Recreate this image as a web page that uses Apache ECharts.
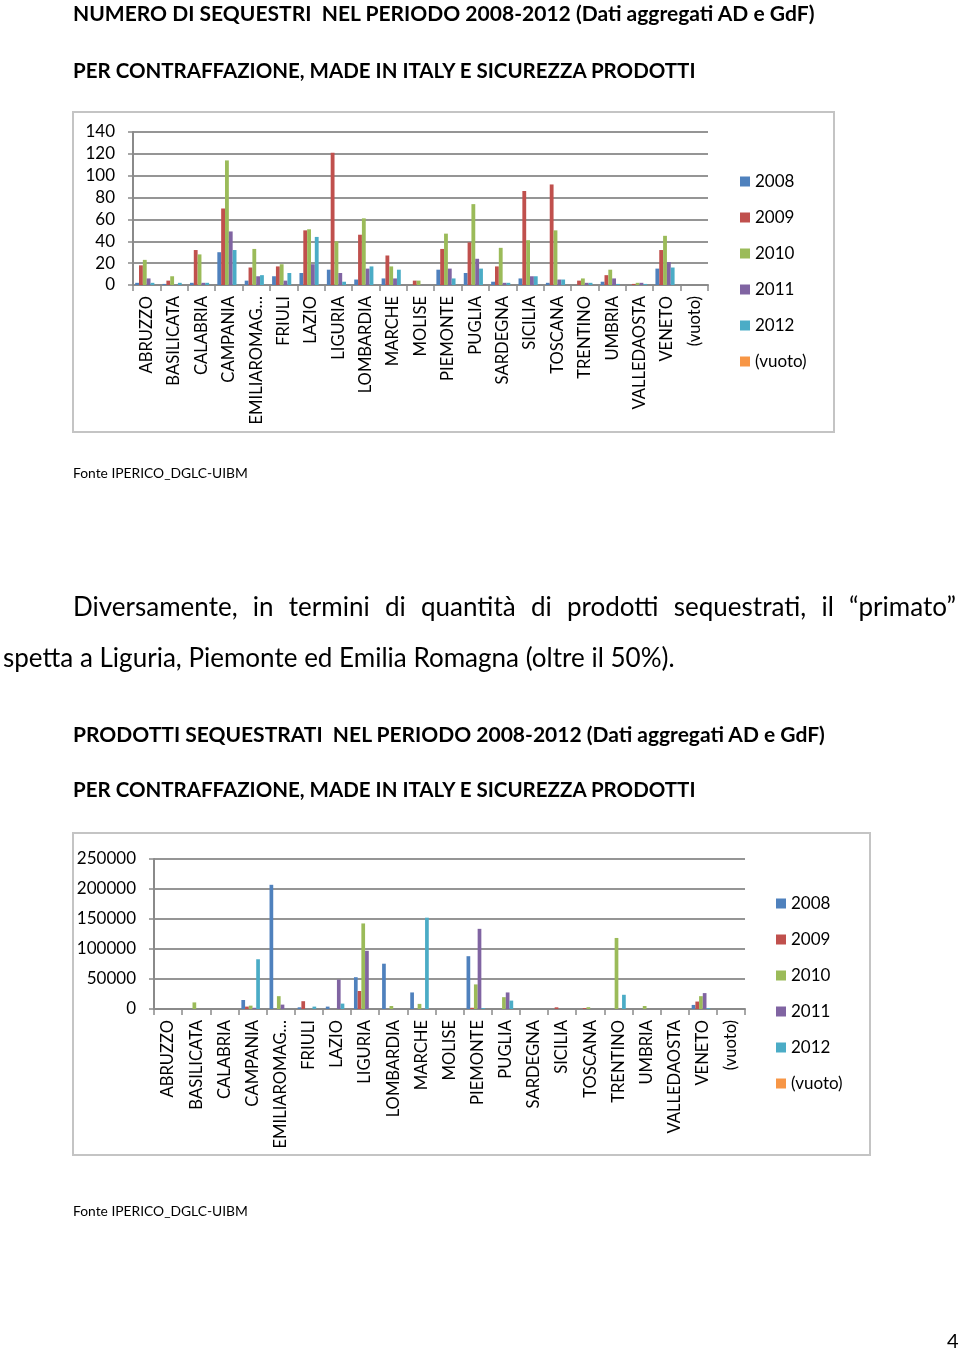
<!DOCTYPE html>
<html>
<head>
<meta charset="utf-8">
<script src="https://cdn.jsdelivr.net/npm/echarts@6/dist/echarts.min.js"></script>
<style>
  html, body { margin: 0; padding: 0; background: #fff; }
  #page { position: relative; width: 960px; height: 1349px; overflow: hidden; }
  #chart { position: absolute; left: 0; top: 0; width: 960px; height: 1349px; }
  .t { position: absolute; white-space: nowrap; line-height: 1; color: #000; font-family: Lato, "Open Sans", sans-serif; }
  .b { font-weight: 700; }
  .box { position: absolute; border: 2px solid #c4c4c4; box-sizing: border-box; }
</style>
</head>
<body>
<div id="page">
  <div class="box" style="left:72px;top:111px;width:763px;height:322px;"></div>
  <div class="box" style="left:72px;top:832px;width:799px;height:324px;"></div>
  <div id="chart"></div>
  <span class="t b" id="t1">NUMERO DI SEQUESTRI&nbsp; NEL PERIODO 2008-2012 (Dati aggregati AD e GdF)</span>
  <span class="t b" id="t2">PER CONTRAFFAZIONE, MADE IN ITALY E SICUREZZA PRODOTTI</span>
  <span class="t" id="f1">Fonte IPERICO_DGLC-UIBM</span>
  <div class="t" id="p1" style="text-align:justify;text-align-last:justify;white-space:normal;">Diversamente, in termini di quantità di prodotti sequestrati, il “primato”</div>
  <span class="t" id="p2">spetta a Liguria, Piemonte ed Emilia Romagna (oltre il 50%).</span>
  <span class="t b" id="t3">PRODOTTI SEQUESTRATI&nbsp; NEL PERIODO 2008-2012 (Dati aggregati AD e GdF)</span>
  <span class="t b" id="t4">PER CONTRAFFAZIONE, MADE IN ITALY E SICUREZZA PRODOTTI</span>
  <span class="t" id="f2">Fonte IPERICO_DGLC-UIBM</span>
  <span class="t" id="pg">4</span>
</div>
<script>
// ---- data ----
const categories = ['ABRUZZO','BASILICATA','CALABRIA','CAMPANIA','EMILIAROMAG…','FRIULI','LAZIO','LIGURIA','LOMBARDIA','MARCHE','MOLISE','PIEMONTE','PUGLIA','SARDEGNA','SICILIA','TOSCANA','TRENTINO','UMBRIA','VALLEDAOSTA','VENETO','(vuoto)'];
const seriesNames = ['2008','2009','2010','2011','2012','(vuoto)'];

// Chart 1: numero di sequestri
const seq2008 = [2,1,2,30,4,8,11,14,5,6,0,14,11,3,6,2,0,3,0,15,0];
const seq2009 = [18,4,32,70,16,17,50,121,46,27,4,33,39,17,86,92,4,9,1,32,0];
const seq2010 = [23,8,28,114,33,19,51,40,61,17,4,47,74,34,41,50,6,14,2,45,0];
const seq2011 = [6,0,2,49,8,4,19,11,15,6,0,15,24,2,8,5,2,6,2,21,0];
const seq2012 = [2,2,2,32,9,11,44,3,17,14,0,6,15,2,8,5,2,1,1,16,0];
const seqVuoto = [0,0,0,0,0,0,0,0,0,0,0,0,0,0,0,0,0,0,0,0,0];

// Chart 2: prodotti sequestrati
const prod2008 = [0,0,0,15000,207000,2800,4000,53000,75500,27600,0,88000,0,0,0,0,0,0,0,6800,0];
const prod2009 = [0,0,0,4000,0,13000,0,30000,0,0,0,2000,0,0,2800,1500,0,0,0,12400,0];
const prod2010 = [0,11000,0,5600,21400,0,0,142600,5000,8500,0,41000,19700,0,0,3000,118400,5000,0,21400,0];
const prod2011 = [0,0,0,2000,7300,0,49000,97000,0,0,0,133600,27600,0,0,0,0,0,0,26500,0];
const prod2012 = [0,0,0,82900,0,4000,9000,0,0,152200,0,1500,14000,0,0,0,23700,0,0,1500,0];
const prodVuoto = [0,0,0,0,0,0,0,0,0,0,0,0,0,0,0,0,0,0,0,0,0];

const yTicks1 = {min: 0, max: 140, interval: 20};
const yTicks2 = {min: 0, max: 250000, interval: 50000};

const colors = ['#4F81BD','#C0504D','#9BBB59','#8064A2','#4BACC6','#F79646'];
const FONT = 'Lato, "Open Sans", sans-serif';

// ---- text fitting ----
function place(id, left, cy, targetW, capRatio) {
  const el = document.getElementById(id);
  el.style.fontSize = '100px';
  el.style.left = left + 'px';
  const w = el.getBoundingClientRect().width;
  const fs = 100 * targetW / w;
  el.style.fontSize = fs + 'px';
  el.style.top = (cy - fs * (capRatio || 0.53)) + 'px';
  return fs;
}
place('t1', 73, 13, 742);
place('t2', 73, 71, 623);
place('t3', 73, 734, 752);
place('t4', 73, 790, 623);
place('f1', 73, 473.5, 175);
place('f2', 73, 1211.5, 175);
const pfs = place('p2', 3, 658, 672);
const p1 = document.getElementById('p1');
p1.style.fontSize = pfs + 'px';
p1.style.left = '73px';
p1.style.width = '883px';
p1.style.top = (607 - pfs * 0.53) + 'px';
const pg = document.getElementById('pg');
pg.style.fontSize = '20px';
pg.style.left = '947px';
pg.style.top = (1341 - 20*0.53) + 'px';

// ---- chart ----
const chart = echarts.init(document.getElementById('chart'), null, {renderer: 'canvas'});
const seriesData1 = [seq2008, seq2009, seq2010, seq2011, seq2012, seqVuoto];
const seriesData2 = [prod2008, prod2009, prod2010, prod2011, prod2012, prodVuoto];

function xAxisCfg(gridIndex) {
  return {
    type: 'category', gridIndex, data: categories,
    axisLine: {show: true, lineStyle: {color: '#8a8a8a', width: 2}},
    axisTick: {show: true, length: 6, lineStyle: {color: '#8a8a8a', width: 1.5}},
    axisLabel: {interval: 0, rotate: 90, margin: 11, color: '#000', fontSize: 16.6, fontFamily: FONT},
    splitLine: {show: false}
  };
}
function yAxisCfg(gridIndex, t) {
  return {
    type: 'value', gridIndex, min: t.min, max: t.max, interval: t.interval,
    axisLine: {show: true, lineStyle: {color: '#8a8a8a', width: 2}},
    axisTick: {show: true, length: 5, lineStyle: {color: '#8a8a8a', width: 1.5}},
    axisLabel: {color: '#000', fontSize: 17, fontFamily: FONT, margin: 18, formatter: v => String(v)},
    splitLine: {show: true, lineStyle: {color: '#959595', width: 2}}
  };
}
const series = [];
seriesNames.forEach((n, i) => {
  series.push({name: n, type: 'bar', xAxisIndex: 0, yAxisIndex: 0, data: seriesData1[i],
    itemStyle: {color: colors[i]}, barGap: '0%', barCategoryGap: '16%', animation: false});
});
seriesNames.forEach((n, i) => {
  series.push({name: n, type: 'bar', xAxisIndex: 1, yAxisIndex: 1, data: seriesData2[i],
    itemStyle: {color: colors[i]}, barGap: '0%', barCategoryGap: '21%', animation: false});
});
function legendCfg(left, top) {
  return {
    data: seriesNames, orient: 'vertical', left, top, padding: 0,
    icon: 'rect', itemWidth: 10, itemHeight: 10, itemGap: 19,
    textStyle: {fontSize: 17, color: '#000', fontFamily: FONT},
    selectedMode: false
  };
}
chart.setOption({
  animation: false,
  color: colors,
  grid: [
    {left: 133, top: 132, width: 575, height: 153, containLabel: false},
    {left: 154, top: 859, width: 591, height: 150, containLabel: false}
  ],
  xAxis: [xAxisCfg(0), xAxisCfg(1)],
  yAxis: [yAxisCfg(0, yTicks1), yAxisCfg(1, yTicks2)],
  legend: [legendCfg(740, 173), legendCfg(776, 895)],
  series
});
</script>
</body>
</html>
